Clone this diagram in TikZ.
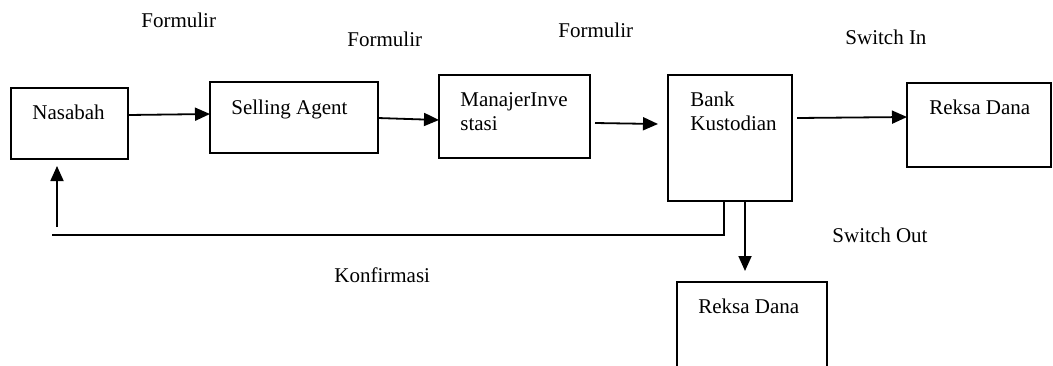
\documentclass[tikz,border=0pt]{standalone}
\usepackage{fontspec}
\setmainfont{Liberation Serif}
\usetikzlibrary{arrows.meta}
\begin{document}
\begin{tikzpicture}[x=0.5pt,y=-0.5pt,
  box/.style={draw,line width=0.9pt,inner sep=0pt,outer sep=0pt},
  txt/.style={anchor=base west,inner sep=0pt,font=\fontsize{10.5}{12}\selectfont},
  conn/.style={line width=0.9pt},
  arr/.style={conn,-{Triangle[length=7.5pt,width=6.5pt]}}]
\useasboundingbox (0,0) rectangle (1053,365);
% boxes
\node[box,minimum width=58.5pt,minimum height=35.5pt] (nas) at (69.5,123.5) {};
\node[box,minimum width=84pt,minimum height=35.5pt] (sell) at (294,117.5) {};
\node[box,minimum width=75.5pt,minimum height=41.5pt] (man) at (514.5,116.5) {};
\node[box,minimum width=62pt,minimum height=63pt] (bank) at (730,138) {};
\node[box,minimum width=72pt,minimum height=42pt] (rd1) at (979,125) {};
\node[box,minimum width=75pt,minimum height=70pt] (rd2) at (752,352) {};
% box texts
\node[txt] (tnas) at (32,119) {Nasabah};
\node[txt] (tsell) at (231,114) {Selling Agent};
\node[txt] (tman1) at (460,106) {ManajerInve};
\node[txt] (tman2) at (460,130) {stasi};
\node[txt] (tbank1) at (690,106) {Bank};
\node[txt] (tbank2) at (690,130) {Kustodian};
\node[txt] (trd1) at (929,114) {Reksa Dana};
\node[txt] (trd2) at (698,313) {Reksa Dana};
% labels
\node[txt] (f1) at (141,27) {Formulir};
\node[txt] (f2) at (347,46) {Formulir};
\node[txt] (f3) at (558,37) {Formulir};
\node[txt] (si) at (845,44) {Switch In};
\node[txt] (so) at (832,242) {Switch Out};
\node[txt] (kf) at (334,282) {Konfirmasi};
% connectors
\coordinate (a1s) at (nas.east |- 0,115);
\coordinate (a1e) at (sell.west |- 0,114);
\draw[arr] (a1s) -- (a1e);
\coordinate (a2s) at (sell.east |- 0,118);
\coordinate (a2e) at (man.west |- 0,120);
\draw[arr] (a2s) -- (a2e);
\coordinate (a3s) at (595,123);
\coordinate (a3e) at (658,124);
\draw[arr] (a3s) -- (a3e);
\coordinate (a4s) at (797,118);
\coordinate (a4e) at (rd1.west |- 0,117);
\draw[arr] (a4s) -- (a4e);
\coordinate (a5s) at (745,201);
\coordinate (a5e) at (745,271);
\draw[arr] (a5s) -- (a5e);
\coordinate (fbtop) at (724,201);
\coordinate (fbend) at (52,235);
\draw[conn] (fbtop) -- (724,235) -- (fbend);
\coordinate (upS) at (57,227);
\coordinate (upE) at (57,166);
\draw[arr] (upS) -- (upE);
\end{tikzpicture}
\end{document}
